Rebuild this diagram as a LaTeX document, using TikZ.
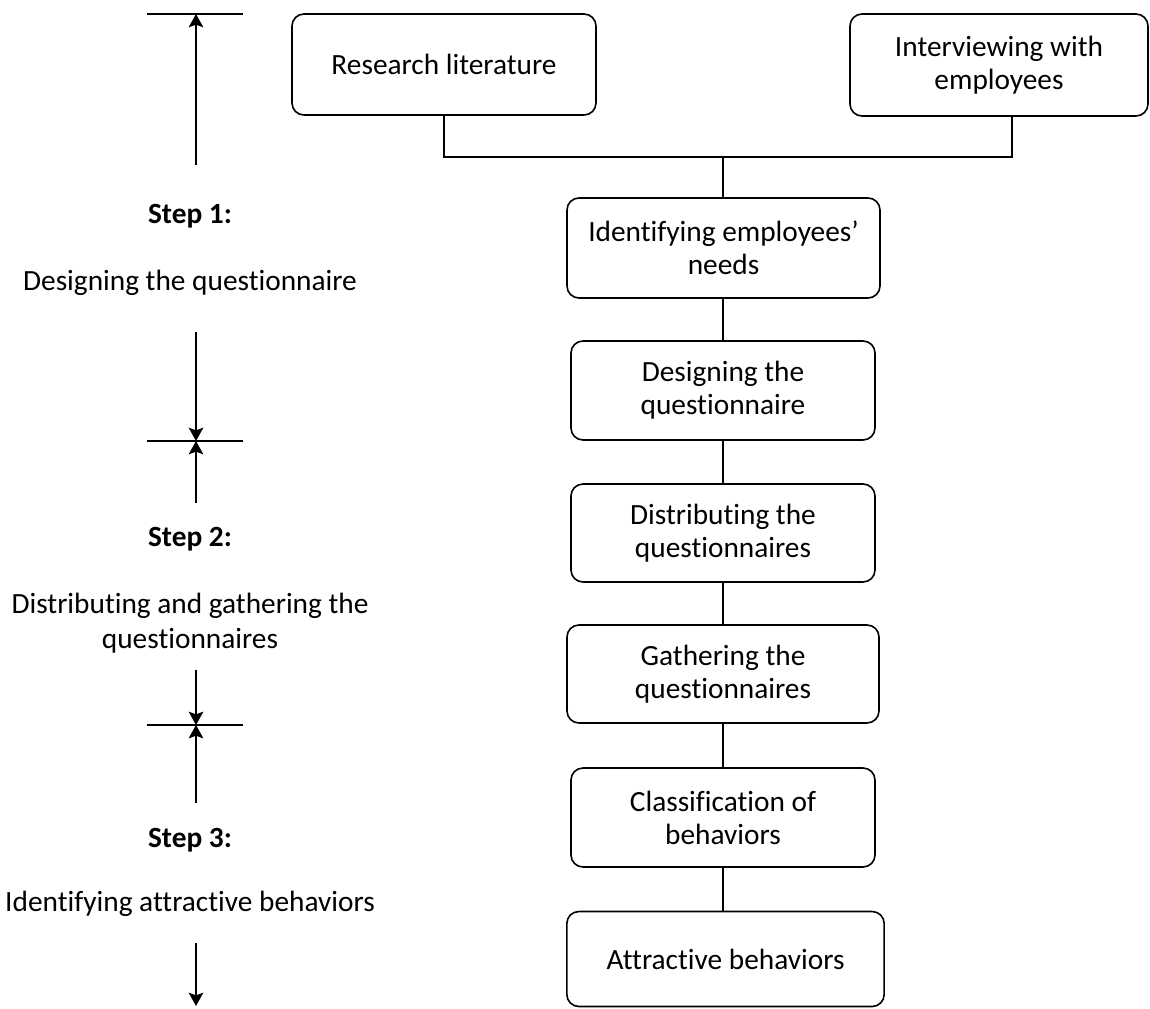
\documentclass[tikz,border=0pt]{standalone}
\usepackage{fontspec}
\setmainfont{Carlito}[Ligatures=NoCommon]
\usetikzlibrary{arrows.meta}
\begin{document}
\begin{tikzpicture}[x=0.75pt,y=-0.75pt,line width=1.2pt,
  box/.style={draw,rounded corners=9pt,align=center,inner sep=0pt,
    font=\fontsize{22}{24.75}\selectfont},
  lbl/.style={align=center,inner sep=0pt,font=\fontsize{22}{26.25}\selectfont},
  steplbl/.style={inner sep=0pt,anchor=base,font=\fontsize{22}{26.25}\selectfont\bfseries},
  arr/.style={-{Stealth[length=10pt,width=11pt,inset=2pt]}},
  tick/.style={line width=1.2pt}]
\useasboundingbox (0,0) rectangle (1150,1008);

% right column boxes
\node[box,minimum width=228pt,minimum height=75.75pt] (lit) at (444,64.5) {Research literature};
\node[box,minimum width=223.5pt,minimum height=76.5pt] (intv) at (999,65) {Interviewing with\\employees};
\node[box,minimum width=234.75pt,minimum height=75pt] (need) at (723.5,248) {Identifying employees’\\needs};
\node[box,minimum width=228pt,minimum height=74.25pt] (des) at (723,390.5) {Designing the\\questionnaire};
\node[box,minimum width=228pt,minimum height=73.5pt] (dist) at (723,533) {Distributing the\\questionnaires};
\node[box,minimum width=234pt,minimum height=73.5pt] (gath) at (723,674) {Gathering the\\questionnaires};
\node[box,minimum width=228pt,minimum height=74.25pt] (cls) at (723,817.5) {Classification of\\behaviors};
\node[box,minimum width=238pt,minimum height=71.25pt] (attr) at (725.5,959) {Attractive behaviors};

% connectors
\coordinate (jn) at (723,157);
\draw (lit.south) |- (jn);
\draw ([xshift=9.75pt]intv.south) |- (jn);
\draw (jn) -- (jn |- need.north);
\draw (jn |- need.south) -- (jn |- des.north);
\draw (jn |- des.south) -- (jn |- dist.north);
\draw (jn |- dist.south) -- (jn |- gath.north);
\draw (jn |- gath.south) -- (jn |- cls.north);
\draw (jn |- cls.south) -- (jn |- attr.north);

% left column labels
\node[steplbl] (s1) at (190,223) {Step 1:};
\node[lbl,anchor=base] (l1) at (190,290) {Designing the questionnaire};
\node[steplbl] (s2) at (190,546) {Step 2:};
\node[lbl] (l2) at (190,623) {Distributing and gathering the\\questionnaires};
\node[steplbl] (s3) at (190,847) {Step 3:};
\node[lbl,anchor=base] (l3) at (190,911) {Identifying attractive behaviors};

% tick lines
\coordinate (t1) at (196,14);
\coordinate (t2) at (196,441);
\coordinate (t3) at (196,725);
\coordinate (t4) at (196,1006);
\draw[tick] (147,14) -- (243,14);
\draw[tick] (147,441) -- (243,441);
\draw[tick] (147,725) -- (243,725);

% arrow start points
\coordinate (a1) at (196,165);
\coordinate (a2) at (196,332);
\coordinate (a3) at (196,503);
\coordinate (a4) at (196,670);
\coordinate (a5) at (196,803);
\coordinate (a6) at (196,943);

\draw[arr] (a1) -- (t1);
\draw[arr] (a2) -- (t2);
\draw[arr] (a3) -- (t2);
\draw[arr] (a4) -- (t3);
\draw[arr] (a5) -- (t3);
\draw[arr] (a6) -- (t4);
\end{tikzpicture}
\end{document}
